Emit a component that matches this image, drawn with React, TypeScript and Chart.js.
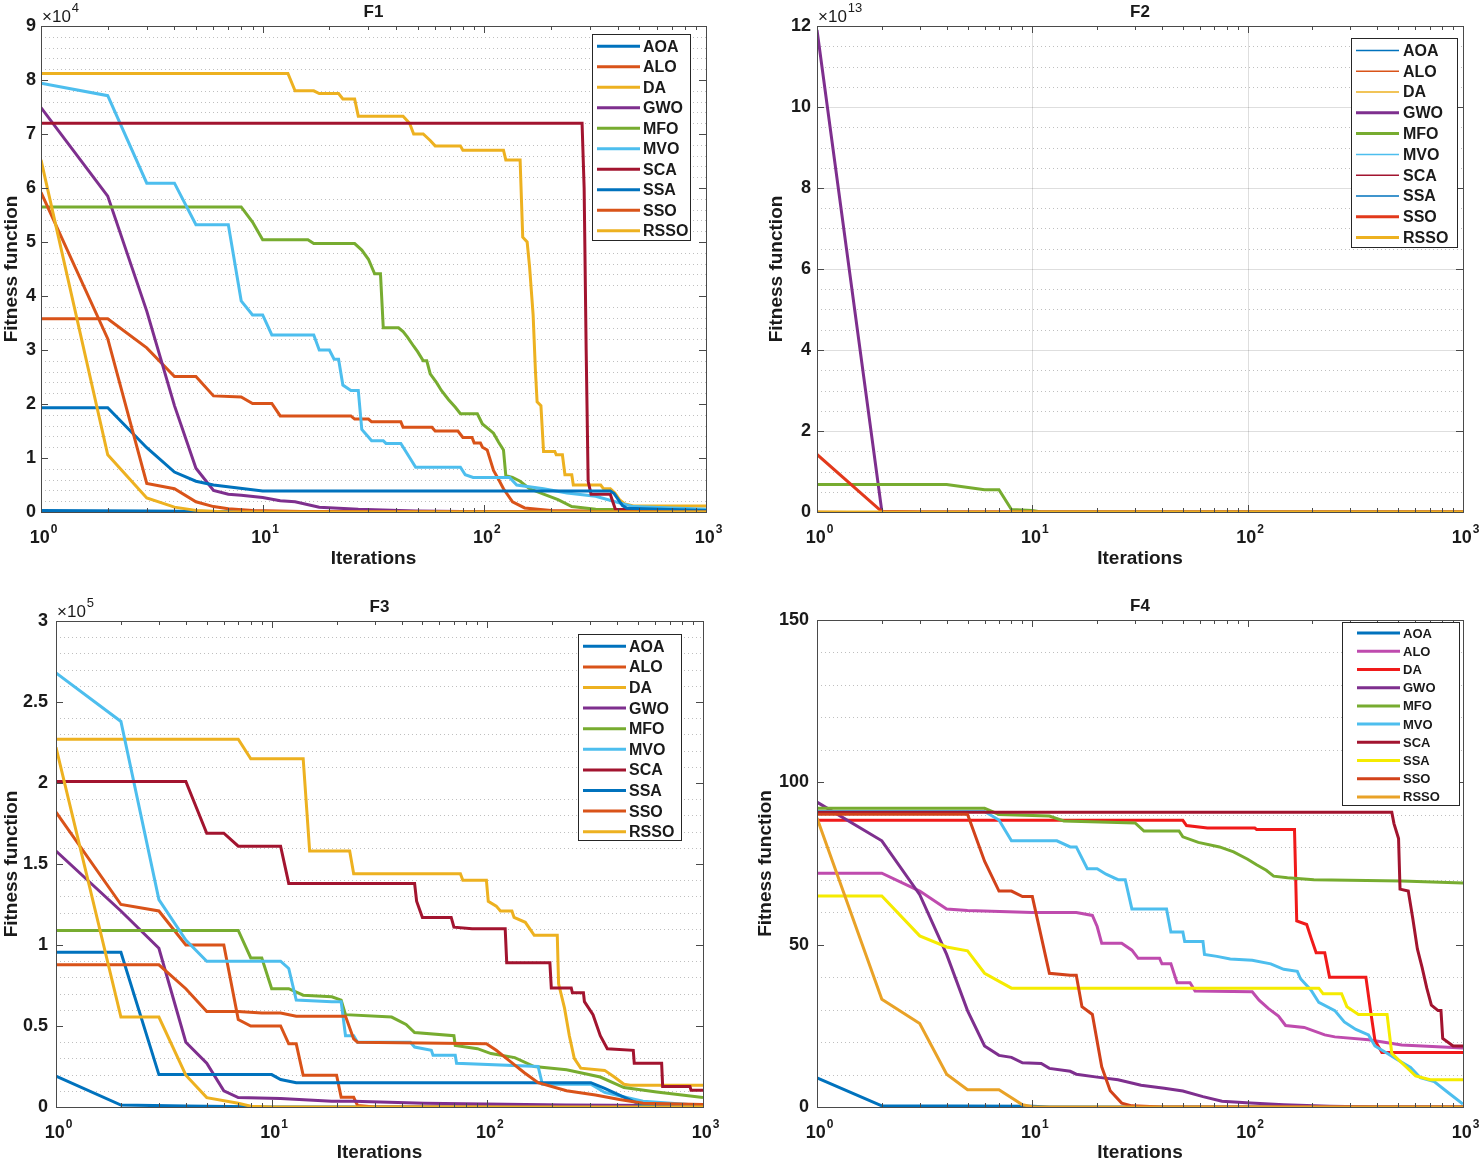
import React, { useEffect, useRef } from 'react';
import { Chart, registerables } from 'chart.js';

Chart.register(...registerables);

type Pt = [number, number];

const SERIES_NAMES = ['AOA', 'ALO', 'DA', 'GWO', 'MFO', 'MVO', 'SCA', 'SSA', 'SSO', 'RSSO'];
const X_MAJOR_TICKS = [1, 10, 100, 1000];
const X_MAJOR_EXPONENTS = ['0', '1', '2', '3'];
const X_MINOR_TICKS = [2, 3, 4, 5, 6, 7, 8, 9, 20, 30, 40, 50, 60, 70, 80, 90, 200, 300, 400, 500, 600, 700, 800, 900];

// ---------- F1 (values ×10^4) ----------
const f1AOA: Pt[] = [[1, 0.03], [3, 0.02], [6, 0.01], [10, 0], [1000, 0]];
const f1ALO: Pt[] = [[1, 3.58], [2, 3.58], [3, 3.04], [4, 2.51], [5, 2.51], [6, 2.15], [8, 2.13], [9, 2.01], [11, 2.01], [12, 1.78], [25, 1.78], [26, 1.72], [30, 1.72], [31, 1.67], [42, 1.67], [43, 1.57], [58, 1.57], [60, 1.5], [76, 1.5], [80, 1.38], [88, 1.38], [90, 1.28], [96, 1.28], [98, 1.2], [103, 1.15], [110, 0.77], [116, 0.6], [122, 0.43], [134, 0.19], [152, 0.075], [200, 0.03], [400, 0.01], [1000, 0.005]];
const f1DA: Pt[] = [[1, 8.12], [13, 8.12], [14, 7.8], [17, 7.8], [18, 7.75], [22, 7.75], [23, 7.65], [26, 7.65], [27, 7.33], [43, 7.33], [46, 7.2], [48, 7.0], [53, 7.0], [57, 6.88], [60, 6.78], [78, 6.78], [80, 6.7], [122, 6.7], [125, 6.52], [145, 6.52], [149, 5.09], [156, 5.0], [160, 4.54], [166, 3.65], [170, 2.62], [173, 2.04], [180, 1.97], [185, 1.12], [208, 1.12], [211, 1.06], [225, 1.06], [231, 0.69], [248, 0.69], [252, 0.5], [335, 0.5], [345, 0.43], [370, 0.43], [388, 0.35], [407, 0.23], [430, 0.15], [470, 0.11], [1000, 0.11]];
const f1GWO: Pt[] = [[1, 7.49], [2, 5.85], [3, 3.72], [4, 1.97], [5, 0.81], [6, 0.4], [7, 0.33], [8, 0.31], [10, 0.27], [12, 0.21], [14, 0.19], [18, 0.09], [27, 0.05], [49, 0.02], [100, 0.005], [1000, 0]];
const f1MFO: Pt[] = [[1, 5.65], [8, 5.65], [9, 5.37], [10, 5.04], [16, 5.04], [17, 4.97], [26, 4.97], [28, 4.85], [30, 4.68], [32, 4.41], [34, 4.41], [35, 3.41], [41, 3.41], [43, 3.34], [45, 3.24], [48, 3.07], [50, 2.97], [53, 2.8], [55, 2.8], [57, 2.56], [61, 2.39], [64, 2.25], [69, 2.08], [74, 1.94], [78, 1.82], [93, 1.82], [98, 1.63], [105, 1.53], [110, 1.46], [116, 1.29], [122, 1.15], [125, 0.67], [134, 0.64], [145, 0.57], [160, 0.43], [185, 0.33], [215, 0.23], [248, 0.1], [318, 0.05], [1000, 0.02]];
const f1MVO: Pt[] = [[1, 7.94], [2, 7.71], [3, 6.09], [4, 6.09], [5, 5.32], [7, 5.32], [8, 3.91], [9, 3.65], [10, 3.65], [11, 3.28], [17, 3.28], [18, 3.0], [20, 3.0], [21, 2.83], [22, 2.83], [23, 2.35], [25, 2.25], [27, 2.25], [28, 1.53], [30, 1.39], [31, 1.32], [35, 1.32], [36, 1.27], [42, 1.27], [46, 1.01], [49, 0.83], [78, 0.83], [82, 0.69], [89, 0.64], [130, 0.64], [140, 0.5], [185, 0.43], [236, 0.35], [318, 0.29], [390, 0.19], [470, 0.1], [1000, 0.05]];
const f1SCA: Pt[] = [[1, 7.2], [276, 7.2], [282, 6.0], [288, 3.0], [294, 0.57], [303, 0.33], [370, 0.33], [390, 0.05], [1000, 0.02]];
const f1SSA: Pt[] = [[1, 1.93], [2, 1.93], [3, 1.19], [4, 0.74], [5, 0.57], [6, 0.5], [10, 0.39], [370, 0.39], [385, 0.34], [420, 0.12], [440, 0.07], [1000, 0.03]];
const f1SSO: Pt[] = [[1, 5.92], [2, 3.21], [3, 0.53], [4, 0.43], [5, 0.19], [6, 0.1], [7, 0.06], [9, 0.03], [15, 0.01], [1000, 0]];
const f1RSSO: Pt[] = [[1, 6.52], [2, 1.06], [3, 0.26], [4, 0.09], [5, 0.03], [7, 0], [1000, 0]];

// ---------- F2 (values ×10^13) ----------
const f2AOA: Pt[] = [[1, 0], [1000, 0]];
const f2ALO: Pt[] = [[1, 0.01], [2, 0], [1000, 0]];
const f2DA: Pt[] = [[1, 0], [1000, 0]];
const f2GWO: Pt[] = [[1, 11.9], [2, 0.02], [3, 0], [1000, 0]];
const f2MFO: Pt[] = [[1, 0.68], [4, 0.68], [6, 0.55], [7, 0.55], [8, 0.06], [10, 0.04], [11, 0], [1000, 0]];
const f2MVO: Pt[] = [[1, 0], [1000, 0]];
const f2SCA: Pt[] = [[1, 0], [1000, 0]];
const f2SSA: Pt[] = [[1, 0], [1000, 0]];
const f2SSO: Pt[] = [[1, 1.42], [2, 0.01], [3, 0], [1000, 0]];
const f2RSSO: Pt[] = [[1, 0], [1000, 0]];

// ---------- F3 (values ×10^5) ----------
const f3AOA: Pt[] = [[1, 0.19], [2, 0.012], [4, 0.006], [8, 0.002], [10, 0], [1000, 0]];
const f3ALO: Pt[] = [[1, 1.82], [2, 1.25], [3, 1.21], [4, 1.0], [6, 1.0], [7, 0.54], [8, 0.5], [11, 0.5], [12, 0.39], [13, 0.39], [14, 0.196], [20, 0.196], [21, 0.06], [24, 0.06], [25, 0.01], [30, 0], [1000, 0]];
const f3DA: Pt[] = [[1, 2.27], [7, 2.27], [8, 2.15], [14, 2.15], [15, 1.58], [23, 1.58], [24, 1.44], [75, 1.44], [77, 1.4], [99, 1.4], [101, 1.27], [110, 1.24], [115, 1.21], [130, 1.21], [133, 1.17], [150, 1.14], [165, 1.06], [211, 1.06], [214, 0.76], [228, 0.61], [240, 0.44], [253, 0.3], [271, 0.24], [350, 0.226], [388, 0.185], [430, 0.14], [460, 0.134], [1000, 0.134]];
const f3GWO: Pt[] = [[1, 1.58], [2, 1.21], [3, 0.98], [4, 0.4], [5, 0.27], [6, 0.1], [7, 0.058], [11, 0.053], [19, 0.035], [24, 0.035], [51, 0.023], [230, 0.012], [1000, 0.008]];
const f3MFO: Pt[] = [[1, 1.09], [7, 1.09], [8, 0.92], [9, 0.92], [10, 0.73], [12, 0.73], [14, 0.69], [19, 0.68], [21, 0.66], [22, 0.57], [36, 0.555], [42, 0.51], [46, 0.46], [70, 0.44], [71, 0.38], [90, 0.36], [104, 0.33], [134, 0.305], [165, 0.25], [233, 0.23], [334, 0.185], [430, 0.12], [610, 0.092], [1000, 0.058]];
const f3MVO: Pt[] = [[1, 2.68], [2, 2.38], [3, 1.28], [4, 1.03], [5, 0.9], [11, 0.9], [12, 0.855], [13, 0.66], [19, 0.65], [21, 0.65], [22, 0.44], [24, 0.44], [25, 0.4], [44, 0.4], [46, 0.37], [55, 0.35], [56, 0.32], [71, 0.32], [72, 0.27], [172, 0.25], [180, 0.14], [302, 0.14], [350, 0.09], [527, 0.035], [1000, 0.01]];
const f3SCA: Pt[] = [[1, 2.01], [4, 2.01], [5, 1.69], [6, 1.69], [7, 1.61], [11, 1.61], [12, 1.38], [46, 1.38], [47, 1.27], [50, 1.17], [68, 1.17], [70, 1.11], [85, 1.1], [121, 1.1], [123, 0.89], [195, 0.89], [198, 0.735], [245, 0.735], [248, 0.705], [279, 0.705], [282, 0.65], [309, 0.57], [334, 0.44], [360, 0.36], [475, 0.35], [480, 0.27], [643, 0.27], [650, 0.127], [870, 0.127], [880, 0.104], [1000, 0.104]];
const f3SSA: Pt[] = [[1, 0.955], [2, 0.955], [3, 0.2], [10, 0.2], [11, 0.17], [13, 0.15], [302, 0.15], [350, 0.115], [410, 0.074], [475, 0.035], [527, 0.01], [600, 0], [1000, 0]];
const f3SSO: Pt[] = [[1, 0.878], [3, 0.878], [4, 0.73], [5, 0.59], [7, 0.59], [9, 0.58], [11, 0.58], [13, 0.56], [22, 0.56], [24, 0.42], [25, 0.4], [99, 0.39], [110, 0.35], [128, 0.28], [149, 0.21], [172, 0.15], [233, 0.1], [317, 0.074], [410, 0.046], [527, 0.023], [1000, 0.016]];
const f3RSSO: Pt[] = [[1, 2.22], [2, 0.555], [3, 0.555], [4, 0.196], [5, 0.058], [7, 0.023], [8, 0.005], [10, 0], [1000, 0]];

// ---------- F4 ----------
const f4AOA: Pt[] = [[1, 9.0], [2, 0.35], [10, 0.2], [12, 0], [1000, 0]];
const f4ALO: Pt[] = [[1, 72], [2, 72], [3, 66.5], [4, 61], [5, 60.5], [10, 59.9], [16, 59.9], [19, 59], [20, 55.6], [21, 50.4], [26, 50.4], [29, 48.3], [31, 45.8], [39, 45.8], [40, 44.1], [44, 44.1], [47, 38.3], [54, 38.3], [57, 35.7], [105, 35.5], [113, 32.9], [125, 30.3], [139, 28], [150, 25.1], [183, 24.5], [228, 22.2], [254, 21.6], [364, 20.7], [519, 19.1], [1000, 18.2]];
const f4DA: Pt[] = [[1, 88.3], [50, 88.3], [52, 86.7], [65, 85.9], [108, 85.9], [110, 85.5], [165, 85.5], [169, 57.3], [188, 56.2], [197, 52.1], [208, 47.5], [228, 47.5], [240, 40], [354, 40], [372, 29.7], [390, 20.5], [420, 16.8], [1000, 16.8]];
const f4GWO: Pt[] = [[1, 93.9], [2, 82], [3, 65.4], [4, 47], [5, 29.7], [6, 18.8], [7, 15.9], [8, 15.3], [9, 13.6], [11, 13.4], [12, 11.9], [15, 11], [16, 10.1], [20, 9.2], [25, 8.4], [32, 6.7], [41, 5.8], [50, 4.9], [62, 3.2], [76, 1.8], [103, 1.2], [147, 0.7], [240, 0.2], [400, 0], [1000, 0]];
const f4MFO: Pt[] = [[1, 92], [6, 92], [7, 90.1], [12, 89.6], [14, 88.1], [30, 87.5], [33, 85], [48, 85], [50, 83.2], [59, 81.5], [74, 80.1], [86, 78.6], [100, 76.3], [110, 74.6], [122, 72.9], [132, 71.1], [153, 70.6], [203, 70], [519, 69.6], [1000, 69]];
const f4MVO: Pt[] = [[1, 91], [6, 91], [7, 88.4], [8, 82], [13, 82], [15, 80.1], [16, 80.1], [18, 73.4], [20, 73.4], [22, 71.7], [25, 70], [27, 70], [29, 61], [42, 61], [44, 53.9], [50, 53.9], [51, 51], [62, 51], [63, 47], [72, 46.4], [83, 45.6], [105, 45.2], [128, 44.1], [147, 42.4], [170, 41.8], [176, 39.5], [197, 36], [214, 32.2], [254, 29.7], [281, 26.2], [318, 23.9], [364, 22.2], [390, 18.8], [446, 16.5], [492, 14.7], [571, 12.2], [634, 9], [735, 7.8], [855, 4.4], [1000, 0.9]];
const f4SCA: Pt[] = [[1, 90.8], [467, 90.8], [478, 87.3], [502, 82.7], [510, 67.1], [557, 66.5], [585, 57.9], [614, 48.7], [646, 42.9], [679, 36.6], [713, 31.4], [766, 29.7], [790, 29.7], [805, 21.1], [900, 18.8], [1000, 18.8]];
const f4SSA: Pt[] = [[1, 65], [2, 65], [3, 52.7], [4, 49.3], [5, 48.1], [6, 41.2], [8, 36.6], [214, 36.6], [224, 34.9], [273, 34.9], [289, 30.9], [327, 28.5], [444, 28.5], [467, 16.5], [543, 12.4], [602, 9.6], [704, 8.4], [1000, 8.4]];
const f4SSO: Pt[] = [[1, 90.2], [5, 90.2], [6, 75.7], [7, 66.5], [8, 66.5], [9, 64.8], [10, 64.8], [12, 41.2], [15, 40.6], [16, 40.6], [17, 30.9], [19, 28.5], [21, 12.4], [23, 5], [26, 1.2], [29, 0.35], [40, 0], [1000, 0]];
const f4RSSO: Pt[] = [[1, 89], [2, 33.2], [3, 25.7], [4, 10.1], [5, 5.3], [7, 5.3], [9, 0.7], [10, 0.1], [12, 0], [1000, 0]];

// ---------- styling ----------
const FONT = "'Liberation Sans', Arial, Helvetica, sans-serif";
const INK = '#1a1a1a';
const FRAME = '#4a4a4a';

const BLUE = '#0072BD';
const ORANGE = '#D95319';
const YELLOW = '#EDB120';
const PURPLE = '#7E2F8E';
const GREEN = '#77AC30';
const CYAN = '#4DBEEE';
const MAROON = '#A2142F';

const COLORS_STD = [BLUE, ORANGE, YELLOW, PURPLE, GREEN, CYAN, MAROON, BLUE, ORANGE, YELLOW];
const COLORS_F2 = [BLUE, ORANGE, YELLOW, PURPLE, GREEN, CYAN, MAROON, BLUE, '#E2391B', YELLOW];
const COLORS_F4 = [BLUE, '#BF4BAE', '#F01A1A', PURPLE, GREEN, CYAN, MAROON, '#F5EB00', '#D2421A', '#E9A227'];

interface Legend { x: number; y: number; w: number; h: number; row: number; lineX: number; lineLen: number; textX: number; font: number; }
interface Panel {
  title: string; left: number; top: number; w: number; h: number;
  area: [number, number, number, number];
  yMax: number; yStep: number; yMinor: number; exponent: string | null;
  series: Pt[][]; colors: string[]; widths: number[];
  legend: Legend; yTitlePad: number; yTickPad: number; xTitlePad: number; majorGrid: boolean;
}

const PANELS: Panel[] = [
  {
    title: 'F1', left: 0, top: 0, w: 740, h: 580, area: [41, 26, 706, 512],
    yMax: 9, yStep: 1, yMinor: 0.2, exponent: '4',
    series: [f1AOA, f1ALO, f1DA, f1GWO, f1MFO, f1MVO, f1SCA, f1SSA, f1SSO, f1RSSO],
    colors: COLORS_STD, widths: [3, 3, 3, 3, 3, 3, 3, 3, 3, 3],
    legend: { x: 592, y: 34, w: 98, h: 206, row: 20.5, lineX: 5, lineLen: 43, textX: 51, font: 16 },
    yTitlePad: 0, yTickPad: 5, xTitlePad: 10, majorGrid: false,
  },
  {
    title: 'F2', left: 740, top: 0, w: 741, h: 580, area: [77, 26, 723, 512],
    yMax: 12, yStep: 2, yMinor: 0.5, exponent: '13',
    series: [f2AOA, f2ALO, f2DA, f2GWO, f2MFO, f2MVO, f2SCA, f2SSA, f2SSO, f2RSSO],
    colors: COLORS_F2, widths: [1.5, 1.5, 1.5, 3, 3, 1.5, 1.5, 1.5, 3, 3],
    legend: { x: 611, y: 38, w: 106, h: 209, row: 20.8, lineX: 5, lineLen: 43, textX: 52, font: 16 },
    yTitlePad: 25, yTickPad: 6, xTitlePad: 10, majorGrid: true,
  },
  {
    title: 'F3', left: 0, top: 580, w: 740, h: 585, area: [56, 41, 703, 527],
    yMax: 3, yStep: 0.5, yMinor: 0.1, exponent: '5',
    series: [f3AOA, f3ALO, f3DA, f3GWO, f3MFO, f3MVO, f3SCA, f3SSA, f3SSO, f3RSSO],
    colors: COLORS_STD, widths: [3, 3, 3, 3, 3, 3, 3, 3, 3, 3],
    legend: { x: 578, y: 54, w: 103, h: 206, row: 20.6, lineX: 5, lineLen: 43, textX: 51, font: 16 },
    yTitlePad: 0, yTickPad: 8, xTitlePad: 1, majorGrid: false,
  },
  {
    title: 'F4', left: 740, top: 580, w: 741, h: 585, area: [77, 40, 723, 527],
    yMax: 150, yStep: 50, yMinor: 10, exponent: null,
    series: [f4AOA, f4ALO, f4DA, f4GWO, f4MFO, f4MVO, f4SCA, f4SSA, f4SSO, f4RSSO],
    colors: COLORS_F4, widths: [3, 3, 3, 3, 3, 3, 3, 3, 3, 3],
    legend: { x: 602, y: 42, w: 117, h: 183, row: 18.2, lineX: 15, lineLen: 43, textX: 61, font: 13 },
    yTitlePad: 14, yTickPad: 8, xTitlePad: 1, majorGrid: false,
  },
];

function hLine(ctx: CanvasRenderingContext2D, x1: number, x2: number, y: number) {
  ctx.beginPath(); ctx.moveTo(x1, y); ctx.lineTo(x2, y); ctx.stroke();
}
function vLine(ctx: CanvasRenderingContext2D, x: number, y1: number, y2: number) {
  ctx.beginPath(); ctx.moveTo(x, y1); ctx.lineTo(x, y2); ctx.stroke();
}

function makeMatlabPlugin(p: Panel) {
  return {
    id: 'matlab' + p.title,
    beforeDatasetsDraw(chart: any) {
      const ctx: CanvasRenderingContext2D = chart.ctx;
      const a = chart.chartArea;
      const ys = chart.scales.y;
      const xs = chart.scales.x;
      ctx.save();
      ctx.lineWidth = 1;
      ctx.strokeStyle = 'rgba(0,0,0,0.25)';
      ctx.setLineDash([1, 3]);
      const nMinor = Math.round(p.yMax / p.yMinor);
      const per = Math.round(p.yStep / p.yMinor);
      for (let k = 1; k < nMinor; k++) {
        if (k % per === 0) continue;
        const y = Math.round(ys.getPixelForValue(k * p.yMinor)) + 0.5;
        hLine(ctx, a.left, a.right, y);
      }
      ctx.setLineDash([]);
      if (p.majorGrid) {
        ctx.strokeStyle = 'rgba(0,0,0,0.13)';
        ys.ticks.forEach((t: any) => {
          if (t.value <= 0 || t.value >= p.yMax) return;
          hLine(ctx, a.left, a.right, Math.round(ys.getPixelForValue(t.value)) + 0.5);
        });
        X_MAJOR_TICKS.forEach((v) => {
          if (v === 1 || v === 1000) return;
          vLine(ctx, Math.round(xs.getPixelForValue(v)) + 0.5, a.top, a.bottom);
        });
      }
      ctx.restore();
    },
    afterDatasetsDraw(chart: any) {
      const ctx: CanvasRenderingContext2D = chart.ctx;
      const a = chart.chartArea;
      const ys = chart.scales.y;
      const xs = chart.scales.x;
      ctx.save();
      // frame
      ctx.strokeStyle = FRAME;
      ctx.lineWidth = 1;
      ctx.strokeRect(Math.round(a.left) + 0.5, Math.round(a.top) + 0.5, Math.round(a.right - a.left), Math.round(a.bottom - a.top));
      // x ticks (inward, top and bottom)
      X_MAJOR_TICKS.forEach((v) => {
        const x = Math.round(xs.getPixelForValue(v)) + 0.5;
        vLine(ctx, x, a.bottom, a.bottom - 7);
        vLine(ctx, x, a.top, a.top + 7);
      });
      X_MINOR_TICKS.forEach((v) => {
        const x = Math.round(xs.getPixelForValue(v)) + 0.5;
        vLine(ctx, x, a.bottom, a.bottom - 4);
        vLine(ctx, x, a.top, a.top + 4);
      });
      // y ticks (inward, left and right)
      ys.ticks.forEach((t: any) => {
        const y = Math.round(ys.getPixelForValue(t.value)) + 0.5;
        hLine(ctx, a.left, a.left + 7, y);
        hLine(ctx, a.right, a.right - 7, y);
      });
      // x tick labels 10^k
      ctx.fillStyle = INK;
      ctx.textBaseline = 'alphabetic';
      ctx.textAlign = 'left';
      X_MAJOR_TICKS.forEach((v, i) => {
        const px = xs.getPixelForValue(v);
        ctx.font = `bold 18px ${FONT}`;
        const w10 = ctx.measureText('10').width;
        ctx.font = `bold 12px ${FONT}`;
        const we = ctx.measureText(X_MAJOR_EXPONENTS[i]).width;
        const x0 = px - (w10 + we) / 2 + 2;
        ctx.font = `bold 18px ${FONT}`;
        ctx.fillText('10', x0, a.bottom + 31);
        ctx.font = `bold 12px ${FONT}`;
        ctx.fillText(X_MAJOR_EXPONENTS[i], x0 + w10 + 1, a.bottom + 21);
      });
      // exponent multiplier
      if (p.exponent) {
        ctx.font = `17px ${FONT}`;
        const base = '\u00d710';
        ctx.fillText(base, a.left + 1, a.top - 4);
        const wb = ctx.measureText(base).width;
        ctx.font = `13px ${FONT}`;
        ctx.fillText(p.exponent, a.left + 1 + wb + 1, a.top - 14);
      }
      // title
      ctx.font = `bold 17px ${FONT}`;
      ctx.textAlign = 'center';
      ctx.textBaseline = 'middle';
      ctx.fillText(p.title, (a.left + a.right) / 2, a.top - 14);
      // legend
      const L = p.legend;
      ctx.fillStyle = '#ffffff';
      ctx.fillRect(L.x, L.y, L.w, L.h);
      ctx.strokeStyle = '#262626';
      ctx.lineWidth = 1;
      ctx.strokeRect(L.x + 0.5, L.y + 0.5, L.w, L.h);
      ctx.textAlign = 'left';
      ctx.textBaseline = 'middle';
      ctx.font = `bold ${L.font}px ${FONT}`;
      chart.data.datasets.forEach((ds: any, i: number) => {
        const cy = L.y + 2 + L.row * (i + 0.5);
        ctx.strokeStyle = ds.borderColor;
        ctx.lineWidth = ds.borderWidth;
        ctx.lineCap = 'butt';
        hLine(ctx, L.x + L.lineX, L.x + L.lineX + L.lineLen, cy);
        ctx.fillStyle = INK;
        ctx.fillText(ds.label, L.x + L.textX, cy + 1);
      });
      ctx.restore();
    },
  };
}

function buildConfig(p: Panel): any {
  const [l, t, r, b] = p.area;
  return {
    type: 'line',
    data: {
      datasets: SERIES_NAMES.map((name, i) => ({
        label: name,
        data: p.series[i].map(([x, y]) => ({ x, y })),
        borderColor: p.colors[i],
        backgroundColor: p.colors[i],
        borderWidth: p.widths[i],
        pointRadius: 0,
        pointHoverRadius: 0,
        tension: 0,
        fill: false,
        order: -i,
      })),
    },
    options: {
      animation: false,
      responsive: false,
      events: [],
      layout: { padding: { left: 0, top: t, right: p.w - r, bottom: 0 } },
      plugins: { legend: { display: false }, tooltip: { enabled: false }, title: { display: false } },
      scales: {
        x: {
          type: 'logarithmic',
          min: 1,
          max: 1000,
          ticks: { display: false },
          grid: { display: false, drawTicks: false },
          border: { display: false },
          title: {
            display: true, text: 'Iterations', color: INK,
            font: { family: FONT, size: 19, weight: 'bold' },
            padding: { top: 0, bottom: p.xTitlePad },
          },
          afterFit: (s: any) => { s.height = p.h - b; },
        },
        y: {
          type: 'linear',
          min: 0,
          max: p.yMax,
          ticks: {
            stepSize: p.yStep,
            color: INK,
            font: { family: FONT, size: 18, weight: 'bold' },
            padding: p.yTickPad,
            callback: (v: any) => String(Number(Number(v).toFixed(6))),
          },
          grid: { display: false, drawTicks: false },
          border: { display: false },
          title: {
            display: true, text: 'Fitness function', color: INK,
            font: { family: FONT, size: 19, weight: 'bold' },
            padding: { top: p.yTitlePad, bottom: 0 },
          },
          afterFit: (s: any) => { s.width = l; },
        },
      },
    },
    plugins: [makeMatlabPlugin(p)],
  };
}

function PanelChart({ p }: { p: Panel }) {
  const ref = useRef<HTMLCanvasElement>(null);
  useEffect(() => {
    if (!ref.current) return;
    const chart = new Chart(ref.current, buildConfig(p));
    return () => chart.destroy();
  }, [p]);
  return (
    <canvas
      ref={ref}
      width={p.w}
      height={p.h}
      style={{ position: 'absolute', left: p.left, top: p.top, width: p.w, height: p.h }}
    />
  );
}

export default function App() {
  return (
    <div style={{ position: 'absolute', left: 0, top: 0, width: 1481, height: 1165, background: '#ffffff' }}>
      {PANELS.map((p) => (
        <PanelChart key={p.title} p={p} />
      ))}
    </div>
  );
}
